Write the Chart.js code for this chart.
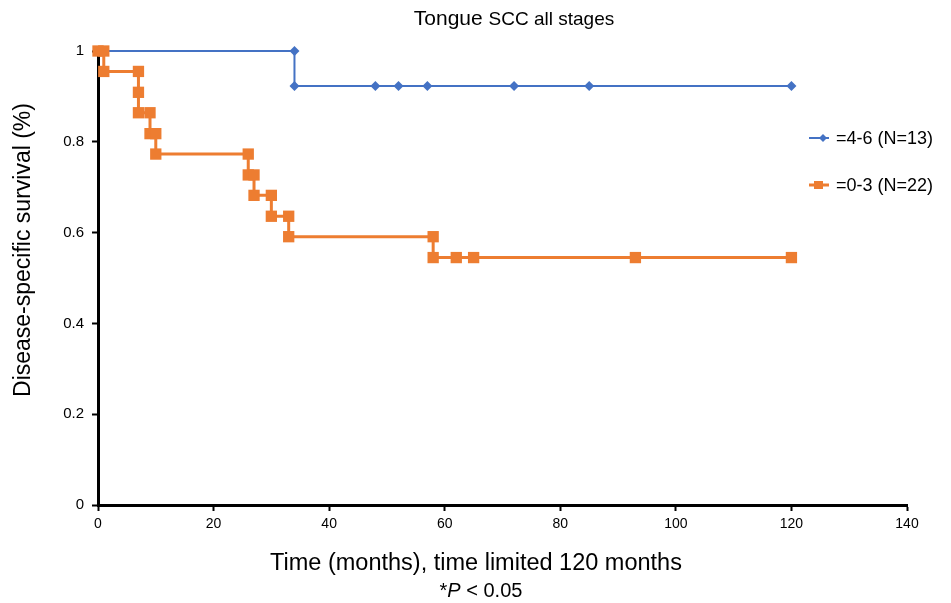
<!DOCTYPE html>
<html>
<head>
<meta charset="utf-8">
<title>Tongue SCC all stages</title>
<script src="https://cdn.jsdelivr.net/npm/chart.js@4"></script>
<style>
  html, body { margin: 0; padding: 0; background: #ffffff; }
  #wrap { width: 951px; height: 603px; position: relative; }
  canvas { display: block; }
</style>
</head>
<body>
<div id="wrap"><canvas id="km" width="951" height="603"></canvas></div>
<script>
// Kaplan-Meier steps: each drop is listed as two points at the same month
const groupHighLabel = '=4-6 (N=13)';
const groupHighMonths = [0, 34, 34, 48, 52, 57, 72, 85, 120];
const groupHighSurvival = [1, 1, 0.923, 0.923, 0.923, 0.923, 0.923, 0.923, 0.923];

const groupLowLabel = '=0-3 (N=22)';
const groupLowMonths = [0, 1, 1, 7, 7, 7, 9, 9, 10, 10, 26, 26, 27, 27, 30, 30, 33, 33, 58, 58, 62, 65, 93, 120];
const groupLowSurvival = [1, 1, 0.955, 0.955, 0.909, 0.864, 0.864, 0.818, 0.818, 0.773, 0.773, 0.727, 0.727, 0.682, 0.682, 0.636, 0.636, 0.591, 0.591, 0.545, 0.545, 0.545, 0.545, 0.545];

const xTicks = [0, 20, 40, 60, 80, 100, 120, 140];
const yTicks = [0, 0.2, 0.4, 0.6, 0.8, 1];

const chartTitle = 'Tongue SCC all stages';
const xAxisTitle = 'Time (months), time limited 120 months';
const yAxisTitle = 'Disease-specific survival (%)';

const BLUE = '#4472C4';
const ORANGE = '#ED7D31';
const FONT = '"Liberation Sans", Arial, sans-serif';

function toPoints(xs, ys) {
  return xs.map((x, i) => ({ x: x, y: ys[i] }));
}

// Title, legend, axis titles and the P-value note
const annotations = {
  id: 'annotations',
  afterDraw(chart) {
    const ctx = chart.ctx;
    ctx.save();
    ctx.fillStyle = '#000';
    ctx.textBaseline = 'alphabetic';

    // title: "Tongue" slightly larger than the rest
    const t1 = 'Tongue ';
    const t2 = 'SCC all stages';
    ctx.font = '21px ' + FONT;
    const w1 = ctx.measureText(t1).width;
    ctx.font = '19px ' + FONT;
    const w2 = ctx.measureText(t2).width;
    const tx = 514 - (w1 + w2) / 2;
    ctx.textAlign = 'left';
    ctx.font = '21px ' + FONT;
    ctx.fillText(t1, tx, 25);
    ctx.font = '19px ' + FONT;
    ctx.fillText(t2, tx + w1, 25);

    // legend
    const entries = [
      { label: groupHighLabel, color: BLUE, y: 138, kind: 'diamond' },
      { label: groupLowLabel, color: ORANGE, y: 185, kind: 'square' }
    ];
    entries.forEach(e => {
      ctx.strokeStyle = e.color;
      ctx.fillStyle = e.color;
      ctx.lineWidth = e.kind === 'square' ? 3 : 2;
      ctx.beginPath();
      ctx.moveTo(809, e.y);
      ctx.lineTo(829, e.y);
      ctx.stroke();
      ctx.beginPath();
      if (e.kind === 'square') {
        ctx.rect(814, e.y - 4, 9, 8);
      } else {
        ctx.moveTo(823, e.y - 4); ctx.lineTo(827, e.y); ctx.lineTo(823, e.y + 4); ctx.lineTo(819, e.y);
        ctx.closePath();
      }
      ctx.fill();
      ctx.fillStyle = '#000';
      ctx.font = '18px ' + FONT;
      ctx.textAlign = 'left';
      ctx.textBaseline = 'middle';
      ctx.fillText(e.label, 836, e.y + 1);
    });

    // x axis title and P-value note
    ctx.textBaseline = 'alphabetic';
    ctx.textAlign = 'center';
    ctx.font = '23.5px ' + FONT;
    ctx.fillText(xAxisTitle, 476, 570);

    const pre = '*';
    const pItal = 'P';
    const post = ' < 0.05';
    ctx.font = '20px ' + FONT;
    const wa = ctx.measureText(pre).width;
    const wc = ctx.measureText(post).width;
    ctx.font = 'italic 20px ' + FONT;
    const wb = ctx.measureText(pItal).width;
    const px = 481 - (wa + wb + wc) / 2;
    ctx.textAlign = 'left';
    ctx.font = '20px ' + FONT;
    ctx.fillText(pre, px, 597);
    ctx.font = 'italic 20px ' + FONT;
    ctx.fillText(pItal, px + wa, 597);
    ctx.font = '20px ' + FONT;
    ctx.fillText(post, px + wa + wb, 597);

    // y axis title
    ctx.save();
    ctx.translate(24, 250);
    ctx.rotate(-Math.PI / 2);
    ctx.textAlign = 'center';
    ctx.textBaseline = 'middle';
    ctx.font = '23px ' + FONT;
    ctx.fillText(yAxisTitle, 0, 0);
    ctx.restore();

    ctx.restore();
  }
};

new Chart(document.getElementById('km'), {
  type: 'scatter',
  data: {
    datasets: [
      {
        label: groupHighLabel,
        data: toPoints(groupHighMonths, groupHighSurvival),
        showLine: true,
        borderColor: BLUE,
        backgroundColor: BLUE,
        borderWidth: 2,
        pointStyle: 'rectRot',
        pointRadius: 5,
        pointBorderWidth: 0,
        order: 2,
        clip: false
      },
      {
        label: groupLowLabel,
        data: toPoints(groupLowMonths, groupLowSurvival),
        showLine: true,
        borderColor: ORANGE,
        backgroundColor: ORANGE,
        borderWidth: 3,
        pointStyle: 'rect',
        pointRadius: 8,
        pointBorderWidth: 0,
        order: 1,
        clip: false
      }
    ]
  },
  options: {
    responsive: false,
    animation: false,
    layout: { padding: { left: 0, right: 44, top: 51, bottom: 0 } },
    plugins: {
      legend: { display: false },
      tooltip: { enabled: false },
      title: { display: false }
    },
    scales: {
      x: {
        type: 'linear',
        min: 0,
        max: 140,
        afterBuildTicks(scale) { scale.ticks = xTicks.map(v => ({ value: v })); },
        afterFit(scale) { scale.height = 98; },
        grid: { display: true, drawOnChartArea: false, drawTicks: true, tickLength: 6, color: '#000', tickWidth: 2 },
        border: { display: true, color: '#000', width: 3 },
        ticks: { color: '#000', padding: 5, font: { family: FONT, size: 14 }, maxRotation: 0 }
      },
      y: {
        type: 'linear',
        min: 0,
        max: 1,
        afterBuildTicks(scale) { scale.ticks = yTicks.map(v => ({ value: v })); },
        afterFit(scale) { scale.width = 98; },
        grid: { display: true, drawOnChartArea: false, drawTicks: true, tickLength: 6, color: '#000', tickWidth: 2 },
        border: { display: true, color: '#000', width: 3 },
        ticks: {
          color: '#000',
          padding: 8,
          font: { family: FONT, size: 15 },
          callback: (v) => String(Math.round(v * 10) / 10)
        }
      }
    }
  },
  plugins: [annotations]
});
</script>
</body>
</html>
